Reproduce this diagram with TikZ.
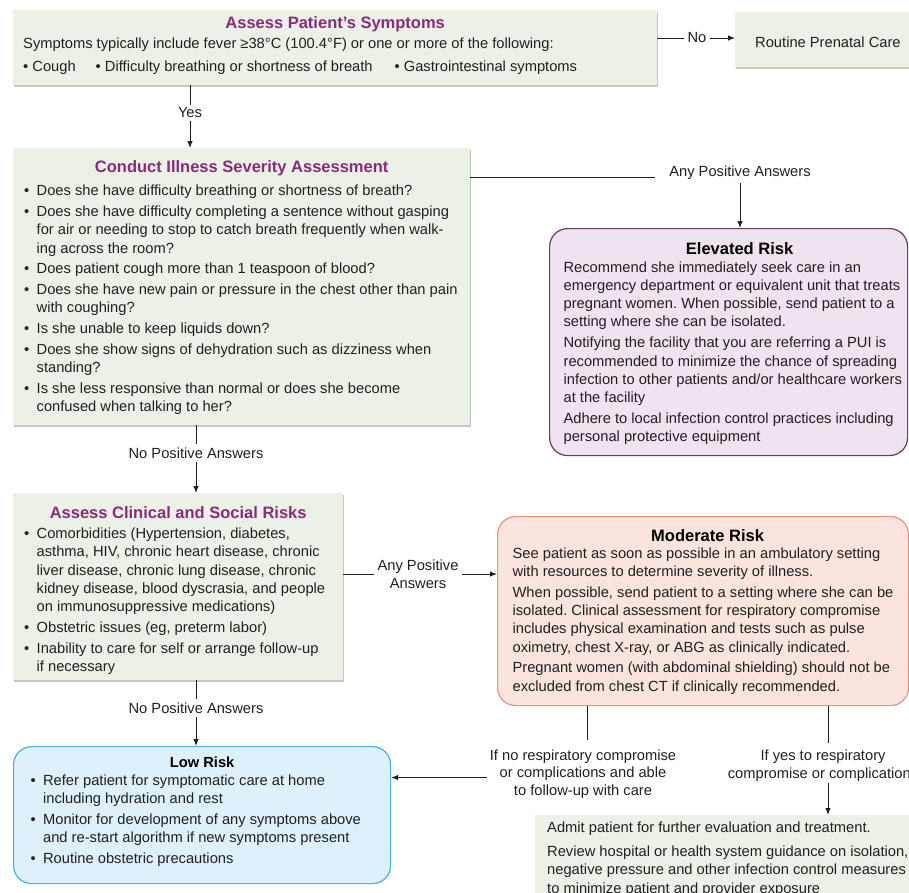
\documentclass[tikz,border=0pt]{standalone}
\usepackage{fontspec}
\setmainfont{Liberation Sans}
\usetikzlibrary{arrows.meta,shadows}

\definecolor{boxgreen}{RGB}{236,241,232}
\definecolor{ttlpurple}{RGB}{140,42,122}
\definecolor{txtgray}{RGB}{32,32,32}
\definecolor{linegray}{RGB}{30,30,30}
\definecolor{elevfill}{RGB}{238,227,238}
\definecolor{elevline}{RGB}{100,62,100}
\definecolor{modfill}{RGB}{251,227,222}
\definecolor{modline}{RGB}{234,145,132}
\definecolor{lowfill}{RGB}{222,240,249}
\definecolor{lowline}{RGB}{72,178,224}

\newcommand{\bodyfont}{\fontsize{14.7}{18.3}\selectfont\raggedright\frenchspacing\parskip=2.5pt}
\newcommand{\lblfont}{\fontsize{14.7}{17.8}\selectfont}
\newcommand{\boxtitle}[1]{{\centering\fontsize{16.5}{18}\selectfont\bfseries\color{ttlpurple}#1\par}}
\newcommand{\risktitle}[2][16.5]{{\centering\fontsize{#1}{18}\selectfont\bfseries\color{black}#2\par}}
\newcommand{\bul}{\par\hangindent=12.5pt\hangafter=1\makebox[12.5pt][l]{\textbullet}}

\begin{document}
\begin{tikzpicture}[x=1pt,y=-1pt,
		every node/.style={text=txtgray},
		greenbox/.style={anchor=north west, fill=boxgreen,
			drop shadow={shadow xshift=0.6pt, shadow yshift=-1.3pt, fill=black!50, opacity=0.45}},
		riskbox/.style={anchor=north west, rounded corners=18pt, line width=1.2pt},
		lbl/.style={font=\lblfont, inner sep=3pt, align=center},
		conn/.style={line width=1pt, draw=linegray},
		arr/.style={conn, -{Latex[length=7pt,width=5.5pt]}}]

	\useasboundingbox (0,0) rectangle (909,892);
	\clip (0,0) rectangle (909,892);

	\node[greenbox, inner xsep=10pt, inner ysep=4pt] (sym) at (13,10) {\parbox[t][67pt][t]{624pt}{\bodyfont
		\boxtitle{Assess Patient's Symptoms}\vspace{-1.2pt}
		Symptoms typically include fever ≥38°C (100.4°F) or one or more of the following:\par\vspace{2.2pt}
		\textbullet\ Cough\hspace{20pt}\textbullet\ Difficulty breathing or shortness of breath\hspace{22pt}\textbullet\ Gastrointestinal symptoms}};

	\node[greenbox, inner xsep=20pt, minimum height=55pt, text height=15pt, text depth=0pt, font=\lblfont] (routine) at (735,12) {Routine Prenatal Care};

	\node[greenbox, inner xsep=11pt, inner ysep=10pt] (sev) at (13,148) {\parbox[t][257pt][t]{435pt}{\bodyfont
		\boxtitle{Conduct Illness Severity Assessment}\vspace{2.2pt}
		\bul Does she have difficulty breathing or shortness of breath?
		\bul Does she have difficulty completing a sentence without gasping\newline for air or needing to stop to catch breath frequently when walk-\newline ing across the room?
		\bul Does patient cough more than 1 teaspoon of blood?
		\bul Does she have new pain or pressure in the chest other than pain\newline with coughing?
		\bul Is she unable to keep liquids down?
		\bul Does she show signs of dehydration such as dizziness when\newline standing?
		\bul Is she less responsive than normal or does she become\newline confused when talking to her?}};

	\node[riskbox, draw=elevline, fill=elevfill, inner xsep=14pt, inner ysep=11pt] (elev) at (549,228) {\parbox[t][205pt][t]{352pt}{\bodyfont
		\risktitle{Elevated Risk}\vspace{-2.8pt}
		Recommend she immediately seek care in an\newline emergency department or equivalent unit that treats\newline pregnant women. When possible, send patient to a\newline setting where she can be isolated.\par
		Notifying the facility that you are referring a PUI is\newline recommended to minimize the chance of spreading\newline infection to other patients and/or healthcare workers\newline at the facility\par
		Adhere to local infection control practices including\newline personal protective equipment}\hspace*{-22pt}};

	\node[greenbox, inner xsep=11pt, inner ysep=11pt] (clin) at (13,493) {\parbox[t][165pt][t]{308pt}{\bodyfont
		\boxtitle{Assess Clinical and Social Risks}\vspace{-0.8pt}
		\bul Comorbidities (Hypertension, diabetes,\newline asthma, HIV, chronic heart disease, chronic\newline liver disease, chronic lung disease, chronic\newline kidney disease, blood dyscrasia, and people\newline on immunosuppressive medications)
		\bul Obstetric issues (eg, preterm labor)
		\bul Inability to care for self or arrange follow-up\newline if necessary}};

	\node[riskbox, draw=modline, fill=modfill, inner xsep=15pt, inner ysep=10pt] (mod) at (497,516) {\parbox[t][169pt][t]{390pt}{\bodyfont
		\risktitle{Moderate Risk}\vspace{-3.8pt}
		See patient as soon as possible in an ambulatory setting\newline with resources to determine severity of illness.\par
		When possible, send patient to a setting where she can be\newline isolated. Clinical assessment for respiratory compromise\newline includes physical examination and tests such as pulse\newline oximetry, chest X-ray, or ABG as clinically indicated.\par
		Pregnant women (with abdominal shielding) should not be\newline excluded from chest CT if clinically recommended.}\hspace*{-9pt}};

	\node[riskbox, draw=lowline, fill=lowfill, inner xsep=17pt, inner ysep=8pt] (low) at (13,746) {\parbox[t][121pt][t]{343pt}{\bodyfont
		\risktitle[14.7]{Low Risk}\vspace{-3.3pt}
		\bul Refer patient for symptomatic care at home\newline including hydration and rest
		\bul Monitor for development of any symptoms above\newline and re-start algorithm if new symptoms present
		\bul Routine obstetric precautions}};

	\node[greenbox, inner xsep=12pt, inner ysep=7pt] (admit) at (535,815) {\parbox[t][90pt][t]{420pt}{\bodyfont
		Admit patient for further evaluation and treatment.\par\vspace{3pt}
		Review hospital or health system guidance on isolation,\newline negative pressure and other infection control measures\newline to minimize patient and provider exposure}};

	\node[lbl] (lblno) at (697,38) {No};
	\node[lbl] (lblyes) at (190,113) {Yes};
	\node[lbl] (lblany) at (740,173) {Any Positive Answers};
	\node[lbl] (lblnp1) at (196,453) {No Positive Answers};
	\node[lbl] (lblany2) at (418,574) {Any Positive\\Answers};
	\node[lbl] (lblnp2) at (196,708) {No Positive Answers};
	\node[lbl] (lblnoresp) at (583,774) {If no respiratory compromise\\or complications and able\\to follow-up with care};
	\node[lbl] (lblyesresp) at (823,766) {If yes to respiratory\\compromise or complications};

	\coordinate (sevout) at (655,177);
	\coordinate (modl) at (587,740);
	\coordinate (modr) at (828,743);
	\coordinate (admin) at (828,783);
	\coordinate (lowin) at ([yshift=-3.5pt]lblnoresp.west);

	\draw[conn] (lblno.west -| sym.east) -- (lblno.west);
	\draw[arr] (lblno.east) -- (lblno.east -| routine.west);

	\draw[conn] (lblyes |- sym.south) -- (lblyes.north);
	\draw[arr] (lblyes.south) -- (lblyes |- sev.north);

	\draw[conn] (sevout -| sev.east) -- (sevout);
	\draw[arr] (lblany.south) -- (lblany.south |- elev.north);

	\draw[conn] (lblnp1 |- sev.south) -- (lblnp1.north);
	\draw[arr] (lblnp1.south) -- (lblnp1 |- clin.north);

	\draw[conn] (lblany2.west -| clin.east) -- (lblany2.west);
	\draw[arr] (lblany2.east) -- (lblany2.east -| mod.west);

	\draw[conn] (lblnp2 |- clin.south) -- (lblnp2.north);
	\draw[arr] (lblnp2.south) -- (lblnp2 |- low.north);

	\draw[conn] (modl |- mod.south) -- (modl);
	\draw[arr] (lowin) -- (lowin -| low.east);

	\draw[conn] (modr |- mod.south) -- (modr);
	\draw[arr] (admin) -- (admin |- admit.north);
\end{tikzpicture}
\end{document}
